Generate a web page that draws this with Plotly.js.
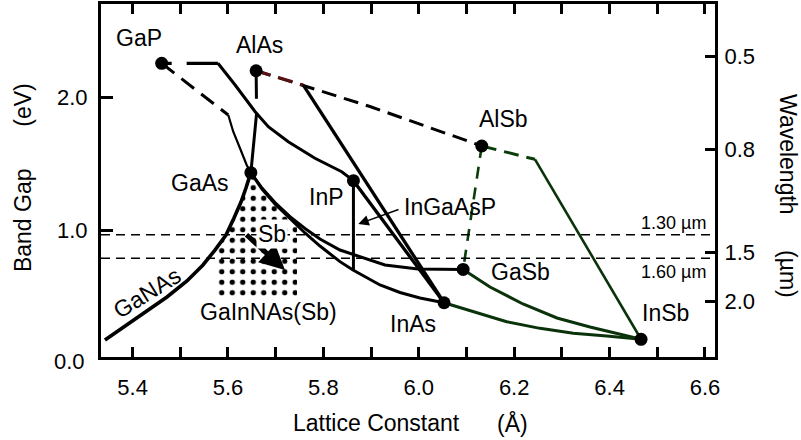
<!DOCTYPE html>
<html><head><meta charset="utf-8">
<script src="https://cdn.plot.ly/plotly-3.0.1.min.js"></script>
<style>html,body{margin:0;padding:0;background:#fff}</style>
</head><body><div id="chart" style="width:801px;height:440px"></div>
<script>
// Binary compounds: lattice constant (Å) and band gap (eV)
const compoundNames   = ['GaP','AlAs','GaAs','InP','AlSb','GaSb','InAs','InSb'];
const compoundLattice = [5.461, 5.659, 5.648, 5.863, 6.132, 6.093, 6.053, 6.466];
const compoundGap     = [2.255, 2.199, 1.435, 1.375, 1.635, 0.710, 0.460, 0.186];

// Alloy curves
const gaInPIndirectX = [5.461, 5.579];
const gaInPIndirectY = [2.255, 2.255];
const gaInPDirectX = [5.579, 5.615, 5.657, 5.6845, 5.7264, 5.7824, 5.8384, 5.863];
const gaInPDirectY = [2.255, 2.092, 1.892, 1.780, 1.667, 1.543, 1.442, 1.375];
const gaAsPIndirectX = [5.461, 5.531, 5.6006];
const gaAsPIndirectY = [2.255, 2.062, 1.867];
const gaAsPDirectX = [5.6006, 5.6111, 5.6252, 5.6392, 5.648];
const gaAsPDirectY = [1.867, 1.742, 1.618, 1.4925, 1.435];
const alGaAsIndirectX = [5.659, 5.660];
const alGaAsIndirectY = [2.199, 1.882];
const alGaAsDirectX = [5.660, 5.648];
const alGaAsDirectY = [1.882, 1.435];
const alAsSbX = [5.659, 5.8977, 6.132];
const alAsSbY = [2.199, 1.931, 1.635];
const alInAsIndirectX = [5.659, 5.7579];
const alInAsIndirectY = [2.199, 2.092];
const alInAsDirectX = [5.7579, 6.053];
const alInAsDirectY = [2.092, 0.460];
const inAsPX = [5.863, 6.053];
const inAsPY = [1.375, 0.460];
const inGaAsPX = [5.863, 5.863];
const inGaAsPY = [1.375, 0.705];
const gaAsSbX = [5.648, 5.6713, 5.6985, 5.7300, 5.7614, 5.7929, 5.8348, 5.8662, 5.9291, 5.9983, 6.093];
const gaAsSbY = [1.435, 1.320, 1.211, 1.106, 1.017, 0.938, 0.855, 0.818, 0.743, 0.713, 0.710];
const gaInAsX = [5.648, 5.6713, 5.6985, 5.7300, 5.7614, 5.7929, 5.8348, 5.8621, 5.9187, 5.9606, 6.0025, 6.053];
const gaInAsY = [1.435, 1.3126, 1.200, 1.088, 0.983, 0.885, 0.768, 0.705, 0.593, 0.537, 0.496, 0.460];
const alGaSbX = [6.132, 6.093];
const alGaSbY = [1.635, 0.710];
const alInSbIndirectX = [6.132, 6.2436];
const alInSbIndirectY = [1.635, 1.535];
const alInSbDirectX = [6.2436, 6.466];
const alInSbDirectY = [1.535, 0.186];
const gaInSbX = [6.093, 6.1493, 6.2184, 6.2897, 6.3589, 6.466];
const gaInSbY = [0.710, 0.578, 0.4505, 0.3456, 0.278, 0.186];
const inAsSbX = [6.053, 6.1143, 6.1843, 6.2541, 6.3239, 6.3939, 6.466];
const inAsSbY = [0.460, 0.393, 0.318, 0.268, 0.231, 0.211, 0.186];
const gaNAsX = [5.3421, 5.3841, 5.4260, 5.4721, 5.5140, 5.5476, 5.5727, 5.5958, 5.6126, 5.6273, 5.6377, 5.648];
const gaNAsY = [0.181, 0.286, 0.383, 0.503, 0.623, 0.743, 0.855, 0.968, 1.095, 1.215, 1.320, 1.435];

// GaInNAs(Sb) region (dotted)
const dotRegionX = [5.648, 5.6377, 5.6273, 5.6126, 5.5958, 5.5727, 5.5727, 5.7447, 5.7447, 5.7300, 5.6985, 5.6713, 5.648];
const dotRegionY = [1.435, 1.320, 1.215, 1.095, 0.968, 0.855, 0.503, 0.503, 1.064, 1.106, 1.211, 1.320, 1.435];

// Sb arrow (tail -> head) and InGaAsP pointer (tail -> head)
const sbArrowX = [5.6356, 5.7195];
const sbArrowY = [0.980, 0.705];
const pointerX = [5.9606, 5.8732];
const pointerY = [1.163, 1.050];

// Telecom wavelength lines
const wlLineEnergy = [0.970, 0.793];
const wlLineText = ['1.30 \u00b5m', '1.60 \u00b5m'];

// Axis ticks
const xTickVals = [5.4, 5.5, 5.6, 5.7, 5.8, 5.9, 6.0, 6.1, 6.2, 6.3, 6.4, 6.5, 6.6];
const xTickText = ['5.4', '', '5.6', '', '5.8', '', '6.0', '', '6.2', '', '6.4', '', '6.6'];
const yTickVals = [1, 2];
const yTickText = ['1.0', '2.0'];
const wlTickEnergy = [2.304, 1.610, 0.838, 0.468];
const wlTickText = ['0.5', '0.8', '1.5', '2.0'];

const FONT = 'Liberation Sans, Arial, Helvetica, sans-serif';
const BLK = '#000';
const GRN = '#0b330b';

function ln(x, y, width, color, dash) {
  return {x: x, y: y, type: 'scatter', mode: 'lines', hoverinfo: 'skip', showlegend: false,
          line: {width: width, color: color, dash: dash || 'solid'}};
}

const traces = [
  {x: dotRegionX, y: dotRegionY, type: 'scatter', mode: 'none', fill: 'toself',
   fillcolor: 'rgba(0,0,0,0)', hoverinfo: 'skip', showlegend: false,
   fillpattern: {shape: '.', fgcolor: '#000', bgcolor: 'rgba(255,255,255,0)', size: 10.5, solidity: 0.2}},
  ln(gaInPIndirectX, gaInPIndirectY, 3.2, BLK, '10px,15px,40px'),
  ln(gaInPDirectX, gaInPDirectY, 3, BLK),
  ln(gaAsPIndirectX, gaAsPIndirectY, 3, BLK, '16px,9px'),
  ln(gaAsPDirectX, gaAsPDirectY, 2.2, BLK),
  ln(alGaAsIndirectX, alGaAsIndirectY, 3, BLK, '28px,14px'),
  ln(alGaAsDirectX, alGaAsDirectY, 3, BLK),
  ln(alAsSbX, alAsSbY, 3, BLK, '15px,8px'),
  ln(alInAsIndirectX, alInAsIndirectY, 3, '#5c1212', '15px,8px'),
  ln(alInAsDirectX, alInAsDirectY, 3.3, BLK),
  ln(inAsPX, inAsPY, 3.3, BLK),
  ln(inGaAsPX, inGaAsPY, 3, BLK),
  ln(gaAsSbX, gaAsSbY, 3, BLK),
  ln(gaInAsX, gaInAsY, 3, BLK),
  ln(alGaSbX, alGaSbY, 2.6, '#0a3d0a', '12px,9px'),
  ln(alInSbIndirectX, alInSbIndirectY, 3, '#0a3d0a', '15px,8px'),
  ln(alInSbDirectX, alInSbDirectY, 2.6, GRN),
  ln(gaInSbX, gaInSbY, 3, GRN),
  ln(inAsSbX, inAsSbY, 3, GRN),
  ln(gaNAsX, gaNAsY, 3.6, BLK),
  {x: compoundLattice, y: compoundGap, text: compoundNames, type: 'scatter', mode: 'markers',
   yaxis: 'y2', hoverinfo: 'text', showlegend: false,
   marker: {size: 13, color: BLK}}
];

const shapes = wlLineEnergy.map(e => ({
  type: 'line', xref: 'paper', x0: 0, x1: 1, yref: 'y', y0: e, y1: e,
  line: {color: BLK, width: 1.6, dash: '9px,6px'}
}));

function lab(text, x, y, extra) {
  return Object.assign({text: text, x: x, y: y, xref: 'x', yref: 'y', showarrow: false,
    xanchor: 'center', yanchor: 'middle',
    font: {family: FONT, size: 23, color: BLK}}, extra || {});
}

const annotations = [
  lab('GaP', 5.4134, 2.441),
  lab('AlAs', 5.6671, 2.392),
  lab('GaAs', 5.5413, 1.361),
  lab('InP', 5.8069, 1.255),
  lab('InGaAsP', 5.9648, 1.180, {xanchor: 'left'}),
  lab('AlSb', 6.1786, 1.837),
  lab('GaSb', 6.2122, 0.687),
  lab('InAs', 5.9878, 0.301),
  lab('InSb', 6.5182, 0.383),
  lab('GaNAs', 5.4296, 0.533, {textangle: -32}),
  lab('GaInNAs(Sb)', 5.6845, 0.391),
  lab('', sbArrowX[1], sbArrowY[1], {showarrow: true, ax: sbArrowX[0], ay: sbArrowY[0], axref: 'x', ayref: 'y',
      arrowhead: 2, arrowwidth: 5, arrowsize: 1.0, arrowcolor: BLK, standoff: 0}),
  lab('Sb', 5.6933, 0.975, {bgcolor: 'white', borderpad: 1}),
  lab('', pointerX[1], pointerY[1], {showarrow: true, ax: pointerX[0], ay: pointerY[0], axref: 'x', ayref: 'y',
      arrowhead: 2, arrowwidth: 1.5, arrowsize: 1.4, arrowcolor: BLK, standoff: 0}),
  lab(wlLineText[0], 0.9886, 1.054, {xref: 'paper', xanchor: 'right', font: {family: FONT, size: 18, color: BLK}}),
  lab(wlLineText[1], 0.9886, 0.687, {xref: 'paper', xanchor: 'right', font: {family: FONT, size: 18, color: BLK}}),
  // "0.0" tick label sits just below the frame
  lab('0.0', -0.0223, -0.0133, {xref: 'paper', yref: 'paper', xanchor: 'right', font: {family: FONT, size: 22, color: BLK}}),
  // axis titles
  lab('Lattice Constant', 0.449, -0.188, {xref: 'paper', yref: 'paper'}),
  lab('(\u00c5)', 0.670, -0.188, {xref: 'paper', yref: 'paper'}),
  lab('Band Gap', -0.127, 0.388, {xref: 'paper', yref: 'paper', textangle: -90}),
  lab('(eV)', -0.127, 0.712, {xref: 'paper', yref: 'paper', textangle: -90}),
  lab('Wavelength', 1.1189, 0.575, {xref: 'paper', yref: 'paper', textangle: 90}),
  lab('(\u00b5m)', 1.1189, 0.235, {xref: 'paper', yref: 'paper', textangle: 90})
];

const yRange = [0.0532, 2.6994];
const layout = {
  width: 801, height: 440,
  margin: {l: 101, r: 86, t: 4, b: 83, pad: 0, autoexpand: false},
  paper_bgcolor: '#fff', plot_bgcolor: '#fff',
  font: {family: FONT, size: 22, color: BLK},
  showlegend: false,
  xaxis: {range: [5.3338, 6.621], tickmode: 'array', tickvals: xTickVals, ticktext: xTickText,
          ticks: 'inside', ticklen: 10, tickwidth: 3, tickcolor: BLK,
          showline: true, linewidth: 3, linecolor: BLK, mirror: 'ticks', automargin: false,
          showgrid: false, zeroline: false, tickfont: {family: FONT, size: 22, color: BLK},
          ticklabelstandoff: 9},
  yaxis: {range: yRange, tickmode: 'array', tickvals: yTickVals, ticktext: yTickText,
          ticks: 'inside', ticklen: 12, tickwidth: 3, tickcolor: BLK, automargin: false,
          showline: true, linewidth: 3, linecolor: BLK,
          showgrid: false, zeroline: false, tickfont: {family: FONT, size: 22, color: BLK},
          ticklabelstandoff: 6},
  yaxis2: {range: yRange, overlaying: 'y', side: 'right', tickmode: 'array',
           tickvals: wlTickEnergy, ticktext: wlTickText, automargin: false,
           ticks: 'inside', ticklen: 10, tickwidth: 3, tickcolor: BLK,
           showline: true, linewidth: 3, linecolor: BLK,
           showgrid: false, zeroline: false, tickfont: {family: FONT, size: 22, color: BLK},
           ticklabelstandoff: 2},
  shapes: shapes,
  annotations: annotations
};

Plotly.newPlot('chart', traces, layout, {displayModeBar: false, staticPlot: true});
</script></body></html>
